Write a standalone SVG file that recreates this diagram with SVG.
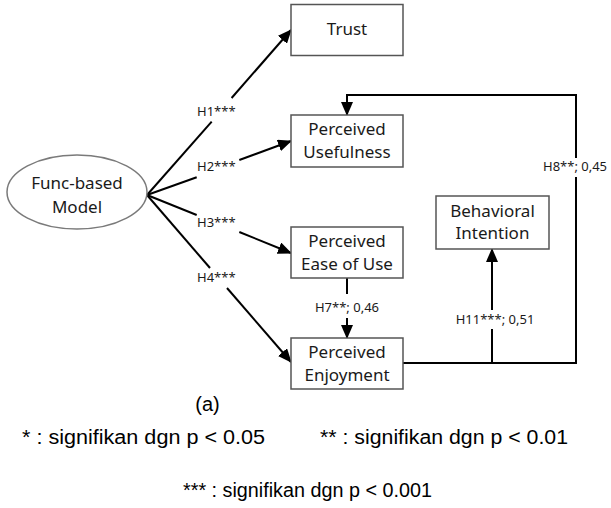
<svg xmlns="http://www.w3.org/2000/svg" width="611" height="508" viewBox="0 0 611 508">
  <style>
    .box { fill: #ffffff; stroke: #555555; stroke-width: 1.5; }
    .oval { fill: #ffffff; stroke: #7a7a7a; stroke-width: 1.5; }
    .lbl { font-family: "Noto Sans", "Open Sans", sans-serif; font-size: 17px; fill: #1a1a1a; text-anchor: middle; }
    .hyp { font-family: "Noto Sans", "Open Sans", sans-serif; font-size: 13px; fill: #1a1a1a; }
    .wire { fill: none; stroke: #000000; stroke-width: 2; }
    .note { font-family: "Liberation Sans", Arial, sans-serif; font-size: 20px; fill: #000000; }
  </style>
  <defs>
    <marker id="arrow" markerUnits="userSpaceOnUse" markerWidth="14" markerHeight="12" refX="13" refY="6" orient="auto">
      <path d="M0,0 L14,6 L0,12 z" fill="#000000"/>
    </marker>
  </defs>

  <rect width="611" height="508" fill="#ffffff"/>

  <!-- connectors -->
  <g id="connectors">
    <!-- H1: model -> Trust -->
    <path class="wire" d="M147,195 L211.7,121.7"/>
    <path class="wire" d="M231.6,98 L291,30" marker-end="url(#arrow)"/>
    <!-- H2: model -> Perceived Usefulness -->
    <path class="wire" d="M147,195 L196.7,177.3"/>
    <path class="wire" d="M239.3,160 L291,141" marker-end="url(#arrow)"/>
    <!-- H3: model -> Perceived Ease of Use -->
    <path class="wire" d="M147,195 L196.7,215"/>
    <path class="wire" d="M239.3,232 L291,253" marker-end="url(#arrow)"/>
    <!-- H4: model -> Perceived Enjoyment -->
    <path class="wire" d="M147,195 L210,268"/>
    <path class="wire" d="M227,288 L291,362" marker-end="url(#arrow)"/>
    <!-- H7: ease of use -> enjoyment -->
    <path class="wire" d="M347,278 L347,294"/>
    <path class="wire" d="M347,318 L347,338" marker-end="url(#arrow)"/>
    <!-- H11: enjoyment -> behavioral intention -->
    <path class="wire" d="M403,363 L576,363 L576,177"/>
    <path class="wire" d="M492,363 L492,329"/>
    <path class="wire" d="M492,310 L492,249" marker-end="url(#arrow)"/>
    <!-- H8: enjoyment -> usefulness -->
    <path class="wire" d="M576,158 L576,95 L347,95 L347,115" marker-end="url(#arrow)"/>

    <text class="hyp" x="197" y="116">H1***</text>
    <text class="hyp" x="197" y="171">H2***</text>
    <text class="hyp" x="197" y="227">H3***</text>
    <text class="hyp" x="197" y="282">H4***</text>
    <text class="hyp" x="347" y="312" text-anchor="middle">H7**; 0,46</text>
    <text class="hyp" x="495" y="324" text-anchor="middle">H11***; 0,51</text>
    <text class="hyp" x="543" y="171">H8**; 0,45</text>
  </g>

  <g id="model">
    <ellipse class="oval" cx="77" cy="192" rx="70" ry="37"/>
    <text class="lbl" x="77" y="189">Func-based</text>
    <text class="lbl" x="77" y="213">Model</text>
  </g>

  <g id="trust">
    <rect class="box" x="291" y="4.5" width="112" height="51"/>
    <text class="lbl" x="347" y="35">Trust</text>
  </g>

  <g id="usefulness">
    <rect class="box" x="291" y="115" width="112" height="52"/>
    <text class="lbl" x="347" y="135">Perceived</text>
    <text class="lbl" x="347" y="158">Usefulness</text>
  </g>

  <g id="ease-of-use">
    <rect class="box" x="291" y="227" width="112" height="51"/>
    <text class="lbl" x="347" y="247">Perceived</text>
    <text class="lbl" x="347" y="270">Ease of Use</text>
  </g>

  <g id="enjoyment">
    <rect class="box" x="291" y="338" width="112" height="51"/>
    <text class="lbl" x="347" y="358">Perceived</text>
    <text class="lbl" x="347" y="381">Enjoyment</text>
  </g>

  <g id="intention">
    <rect class="box" x="436" y="196" width="113" height="53"/>
    <text class="lbl" x="492.5" y="217">Behavioral</text>
    <text class="lbl" x="492.5" y="239">Intention</text>
  </g>

  <!-- caption and significance legend -->
  <text class="note" x="207.5" y="411" text-anchor="middle">(a)</text>
  <text class="note" x="22" y="444" textLength="243" lengthAdjust="spacingAndGlyphs">* : signifikan dgn p &lt; 0.05</text>
  <text class="note" x="320" y="444" textLength="248" lengthAdjust="spacingAndGlyphs">** : signifikan dgn p &lt; 0.01</text>
  <text class="note" x="183" y="497" textLength="249" lengthAdjust="spacingAndGlyphs">*** : signifikan dgn p &lt; 0.001</text>
</svg>
